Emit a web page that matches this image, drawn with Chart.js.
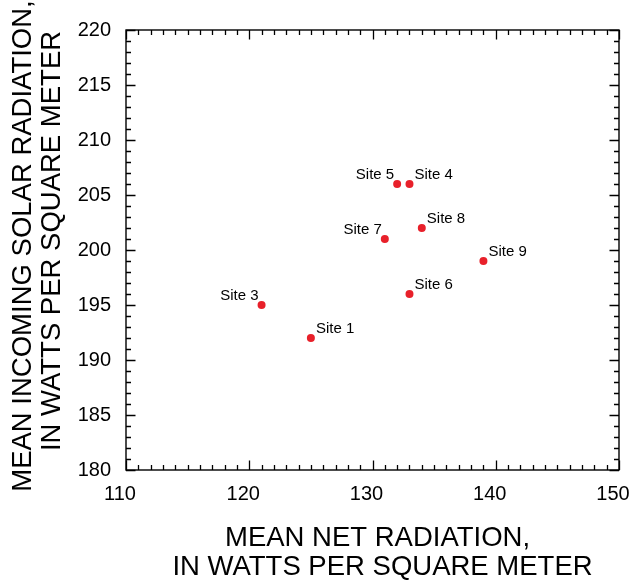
<!DOCTYPE html>
<html>
<head>
<meta charset="utf-8">
<script src="https://cdn.jsdelivr.net/npm/chart.js@4"></script>
<style>
  html, body { margin: 0; padding: 0; background: #ffffff; }
  #wrap { width: 630px; height: 580px; position: relative; }
</style>
</head>
<body>
<div id="wrap"><canvas id="c" width="630" height="580"></canvas></div>
<script>
// ---- data ----
const siteNames = ['Site 1', 'Site 3', 'Site 4', 'Site 5', 'Site 6', 'Site 7', 'Site 8', 'Site 9'];
const netRadiation = [125, 121, 133, 132, 133, 131, 134, 139];
const solarRadiation = [192, 195, 206, 206, 196, 201, 202, 199];
const labelSide = ['right', 'left', 'right', 'left', 'right', 'left', 'right', 'right'];
const xTitle = ['MEAN NET RADIATION,', 'IN WATTS PER SQUARE METER'];
const yTitle = ['MEAN INCOMING SOLAR RADIATION,', 'IN WATTS PER SQUARE METER'];
const xRange = [110, 150];
const yRange = [180, 220];

const FONT = '"Liberation Sans", Arial, Helvetica, sans-serif';

const points = netRadiation.map((x, i) => ({ x: x, y: solarRadiation[i] }));

const framePlugin = {
  id: 'frameTicks',
  afterDraw(chart) {
    const ctx = chart.ctx;
    const a = chart.chartArea;
    const xs = chart.scales.x, ys = chart.scales.y;
    ctx.save();
    ctx.strokeStyle = '#000';
    ctx.lineWidth = 1.4;
    ctx.strokeRect(a.left, a.top, a.right - a.left, a.bottom - a.top);
    ctx.lineWidth = 1.3;
    ctx.beginPath();
    for (let v = xs.min; v <= xs.max; v++) {
      const px = Math.round(xs.getPixelForValue(v)) + 0.5;
      const len = (v % 10 === 0) ? 9.5 : 5;
      ctx.moveTo(px, a.bottom); ctx.lineTo(px, a.bottom - len);
      ctx.moveTo(px, a.top); ctx.lineTo(px, a.top + len);
    }
    for (let v = ys.min; v <= ys.max; v++) {
      const py = Math.round(ys.getPixelForValue(v)) + 0.5;
      const len = (v % 5 === 0) ? 9.5 : 5;
      ctx.moveTo(a.left, py); ctx.lineTo(a.left + len, py);
      ctx.moveTo(a.right, py); ctx.lineTo(a.right - len, py);
    }
    ctx.stroke();

    // axis titles
    ctx.fillStyle = '#000';
    ctx.font = '27.5px ' + FONT;
    ctx.textAlign = 'center';
    ctx.textBaseline = 'middle';
    const cx = (a.left + a.right) / 2;
    const cy = (a.top + a.bottom) / 2;
    ctx.fillText(xTitle[0], cx + 5, a.bottom + 68);
    ctx.fillText(xTitle[1], cx + 10, a.bottom + 97);
    ctx.save();
    ctx.translate(23, cy - 4);
    ctx.rotate(-Math.PI / 2);
    ctx.fillText(yTitle[0], 0, 0);
    ctx.restore();
    ctx.save();
    ctx.translate(52.5, cy - 9);
    ctx.rotate(-Math.PI / 2);
    ctx.fillText(yTitle[1], 0, 0);
    ctx.restore();
    ctx.restore();
  }
};

const labelPlugin = {
  id: 'siteLabels',
  afterDatasetsDraw(chart) {
    const ctx = chart.ctx;
    const meta = chart.getDatasetMeta(0);
    ctx.save();
    ctx.font = '15px ' + FONT;
    ctx.fillStyle = '#000';
    ctx.textBaseline = 'middle';
    meta.data.forEach((pt, i) => {
      const right = labelSide[i] === 'right';
      ctx.textAlign = right ? 'left' : 'right';
      ctx.fillText(siteNames[i], pt.x + (right ? 5 : -3), pt.y - 9);
    });
    ctx.restore();
  }
};

new Chart(document.getElementById('c'), {
  type: 'scatter',
  data: {
    datasets: [{
      data: points,
      backgroundColor: '#e8202a',
      borderColor: '#e8202a',
      borderWidth: 0,
      pointRadius: 4,
      pointHoverRadius: 4
    }]
  },
  options: {
    responsive: false,
    animation: false,
    events: [],
    layout: { padding: { left: 0, right: 11, top: 30, bottom: 0 } },
    plugins: { legend: { display: false }, tooltip: { enabled: false } },
    scales: {
      x: {
        type: 'linear',
        min: xRange[0], max: xRange[1],
        grid: { display: false },
        border: { display: false },
        ticks: { stepSize: 10, color: '#000', padding: 4, labelOffset: -6, font: { family: FONT, size: 20 } },
        afterFit(scale) { scale.height = 110; scale.paddingLeft = 0; scale.paddingRight = 0; }
      },
      y: {
        type: 'linear',
        min: yRange[0], max: yRange[1],
        grid: { display: false },
        border: { display: false },
        ticks: { stepSize: 5, color: '#000', padding: 7, font: { family: FONT, size: 20 } },
        afterFit(scale) { scale.width = 126; scale.paddingTop = 0; scale.paddingBottom = 0; }
      }
    }
  },
  plugins: [framePlugin, labelPlugin]
});
</script>
</body>
</html>
